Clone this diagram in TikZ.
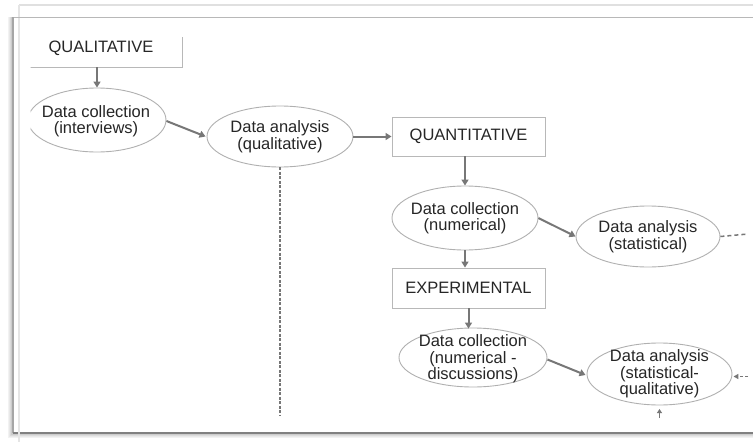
\documentclass[tikz,border=0pt]{standalone}
\usepackage{fontspec}
\setmainfont{Liberation Sans}
\usetikzlibrary{shapes.geometric,arrows.meta,calc}
\definecolor{txt}{HTML}{262626}
\definecolor{arrc}{HTML}{777777}
\definecolor{ellc}{HTML}{B0B0B0}
\definecolor{boxc}{HTML}{B8B8B8}
\begin{document}
\begin{tikzpicture}[x=1pt,y=-1pt,
  every node/.style={text=txt,font=\fontsize{16.5}{16.5}\selectfont,align=center},
  oval/.style={ellipse,draw=ellc,line width=0.9pt,inner sep=0pt,fill=white},
  stagebox/.style={rectangle,draw=boxc,line width=0.9pt,inner sep=0pt,fill=white},
  arr/.style={draw=arrc,line width=2pt,-{Triangle[length=6pt,width=7pt]}},
  dline/.style={draw=arrc,line width=1.8pt,dash pattern=on 3pt off 1.5pt},
  dline2/.style={draw=arrc,line width=1.5pt,dash pattern=on 4pt off 3pt}]
\useasboundingbox (0,0) rectangle (753,442);
\fill[white] (0,0) rectangle (753,442);
% frame
\draw[color=black!12,line width=1.2pt] (19,5) -- (753,5);
\draw[color=black!10,line width=1.2pt] (19,5) -- (19,442);
\foreach \d/\c in {4/5,3/9,2/14,1/20}{
  \draw[color=black!\c,line width=1.2pt] (13-\d,17) -- (13-\d,433+\d) -- (753,433+\d);
}
\draw[color=black!28,line width=1pt] (12.5,17) -- (753,17);
\draw[color=black!35,line width=1.2pt] (13,17) -- (13,433);
\draw[color=black!50,line width=2pt] (13,433) -- (753,433);
\draw[color=black!10,line width=1.2pt] (19,420) -- (19,442);
% clipped top-left part
\begin{scope}
\clip (30.5,37) rectangle (753,442);
\node[stagebox,minimum width=162pt,minimum height=38pt] (qual) at (101,48) {};
\node[oval,minimum width=138pt,minimum height=64pt] (intv) at (97,120) {};
\end{scope}
\node (qualt) at (qual) {QUALITATIVE};
\node (intvt) at (96,121) {Data collection\\(interviews)};
\node[oval,minimum width=146pt,minimum height=61pt] (anq) at (280,136.5) {};
\node (anqt) at (anq) {Data analysis\\(qualitative)};
\node[stagebox,minimum width=153pt,minimum height=39pt] (quant) at (468.5,136.5) {};
\node (quantt) at (quant) {QUANTITATIVE};
\node[oval,minimum width=146pt,minimum height=64pt] (dcn) at (465,218) {};
\node (dcnt) at (dcn) {Data collection\\(numerical)};
\node[oval,minimum width=144pt,minimum height=61pt] (ans) at (648,236.5) {};
\node (anst) at (ans) {Data analysis\\(statistical)};
\node[stagebox,minimum width=153pt,minimum height=40pt] (exp) at (468.5,288) {};
\node (expt) at (exp) {EXPERIMENTAL};
\node[oval,minimum width=148pt,minimum height=59pt] (dcd) at (473,357.5) {};
\node (dcdt) at (473,359) {Data collection\\(numerical -\\discussions)};
\node[oval,minimum width=145pt,minimum height=62pt] (ansq) at (659.5,374) {};
\node (ansqt) at (ansq) {Data analysis\\(statistical-\\qualitative)};
% free ends
\coordinate (ansend) at (748,234);
\coordinate (ansqin) at (748,376.5);
\coordinate (ansqup) at (659.5,418);
\coordinate (ansqtip) at (659.5,409);
\coordinate (vend) at (280,415);
% connectors
\draw[arr] (intv.north |- qual.south) -- (intv.north);
\draw[arr] ($(intv.east)+(0,1)$) -- ($(anq.west)+(-1,0)$);
\draw[arr] (anq.east) -- (quant.west);
\draw[arr] (dcn.north |- quant.south) -- (dcn.north);
\draw[arr] (dcn.east) -- (ans.west);
\draw[arr] (dcn.south) -- (dcn.south |- exp.north);
\draw[arr] (exp.south) -- ($(exp.south |- dcd.north)+(0,1)$);
\draw[arr] ($(dcd.east)+(0,2)$) -- ($(ansq.west)+(-1,1)$);
\draw[dline] (anq.south) -- (vend);
\draw[dline2] (ans.east) -- (ansend);
\draw[dline2,dash pattern=on 3pt off 2pt,-{Triangle[length=5pt,width=5pt]}] (ansqin) -- ($(ansq.east)+(1,2.5)$);
\draw[draw=arrc,line width=1.5pt,-{Triangle[length=4pt,width=5pt]}] (ansqup) -- (ansqtip);
\end{tikzpicture}
\end{document}
